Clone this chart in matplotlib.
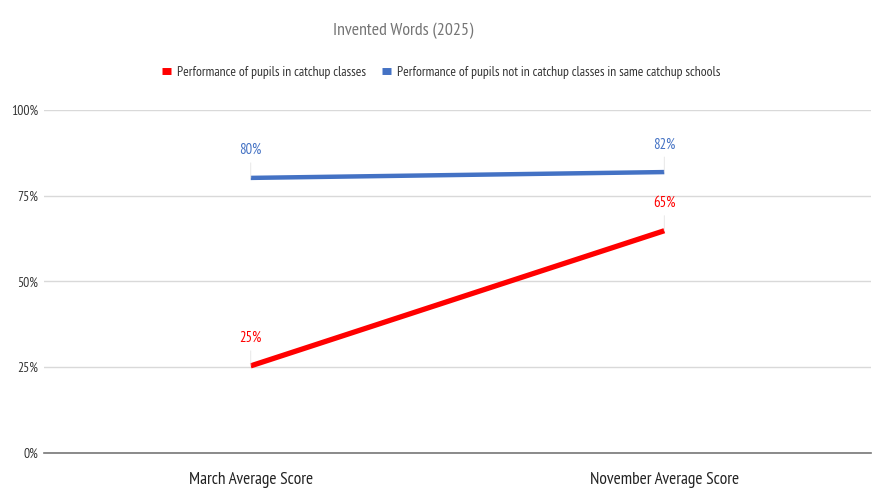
import matplotlib
matplotlib.use("Agg")
import matplotlib.pyplot as plt
from matplotlib.lines import Line2D
from matplotlib.ticker import FuncFormatter

plt.rcParams['font.family'] = ['PT Sans Narrow', 'Lato', 'DejaVu Sans']

# data
categories = ['March Average Score', 'November Average Score']
catchup = [25.4, 64.8]
not_catchup = [80.2, 81.9]
series_names = ['Performance of pupils in catchup classes',
                'Performance of pupils not in catchup classes in same catchup schools']
y_ticks = [0, 25, 50, 75, 100]

RED = '#ff0000'
BLUE = '#4472c4'

fig = plt.figure(figsize=(8.79, 4.91), dpi=100)
ax = fig.add_axes([0.050, 0.0774, 0.941, 0.6986])

x = list(range(len(categories)))
ax.plot(x, catchup, color=RED, lw=3.8, solid_capstyle='butt', zorder=3)
ax.plot(x, not_catchup, color=BLUE, lw=3.2, solid_capstyle='butt', zorder=3)

# data labels with faint leader lines
for vals, col in [(catchup, RED), (not_catchup, BLUE)]:
    for xi, v in zip(x, vals):
        ax.annotate(f'{v:.0f}%', xy=(xi, v), xytext=(0, 17), textcoords='offset points',
                    ha='center', va='baseline', fontsize=10.5, color=col,
                    arrowprops=dict(arrowstyle='-', color='#e4e4e4', lw=0.6,
                                    shrinkA=2, shrinkB=0))

ax.set_xlim(-0.5, 1.5)
ax.set_ylim(0, 100)
ax.set_yticks(y_ticks)
ax.yaxis.set_major_formatter(FuncFormatter(lambda v, p: f'{v:.0f}%'))
ax.set_xticks(x)
ax.set_xticklabels(categories, fontsize=12.5, color='#222222')
ax.tick_params(axis='y', length=0, pad=4, labelsize=9.8, labelcolor='#333333')
ax.tick_params(axis='x', length=0, pad=14)

ax.grid(axis='y', color='#d9d9d9', lw=1)
ax.set_axisbelow(True)
for s in ['top', 'right', 'left']:
    ax.spines[s].set_visible(False)
ax.spines['bottom'].set_color('#777777')
ax.spines['bottom'].set_linewidth(1.2)

fig.text(0.459, 0.929, 'Invented Words (2025)', ha='center', va='baseline',
         fontsize=12.9, color='#757575')

handles = [Line2D([], [], color=RED, lw=5, solid_capstyle='butt'),
           Line2D([], [], color=BLUE, lw=5, solid_capstyle='butt')]
fig.legend(handles, series_names, loc='center', bbox_to_anchor=(0.502, 0.853),
           ncol=2, frameon=False, fontsize=9.7, handlelength=0.7,
           handletextpad=0.45, columnspacing=1.15, labelcolor='#333333')

fig.savefig('out.png', dpi=100, facecolor='white')
